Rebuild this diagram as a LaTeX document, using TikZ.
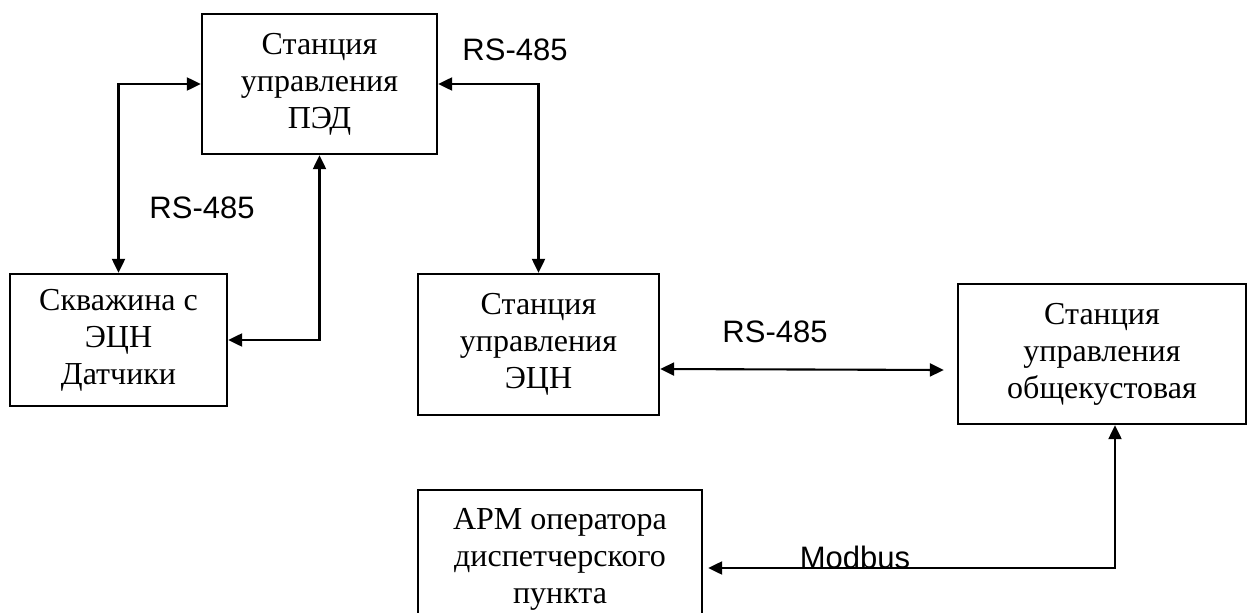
\documentclass[tikz,border=0pt]{standalone}
\usepackage{fontspec}
\setmainfont{Liberation Serif}
\newfontfamily\labelfont{Liberation Sans}
\usetikzlibrary{arrows.meta}
\begin{document}
\begin{tikzpicture}[x=1pt,y=-1pt,
  boxnode/.style={draw,line width=2.3pt,inner sep=0pt,align=center,
    font=\fontsize{32}{37}\selectfont},
  lbl/.style={inner sep=0pt,font=\labelfont\fontsize{31}{31}\selectfont},
  link/.style={line width=2.1pt,{Triangle[length=14pt,width=13pt]}-{Triangle[length=14pt,width=13pt]}}]
\useasboundingbox (0,0) rectangle (1248,613);
\fill[white] (0,0) rectangle (1248,613);

\node[boxnode,minimum width=235pt,minimum height=140pt] (ped) at (319.5,84) {Станция\\управления\\ПЭД};
\node[boxnode,minimum width=217pt,minimum height=132pt] (skv) at (118.5,340) {Скважина с\\ЭЦН\\Датчики};
\node[boxnode,minimum width=241pt,minimum height=141pt] (ecn) at (538.5,344.5) {Станция\\управления\\ЭЦН};
\node[boxnode,minimum width=288pt,minimum height=140pt] (ob) at (1102,354) {Станция\\управления\\общекустовая};
\node[boxnode,minimum width=284pt,minimum height=138pt] (apm) at (560,559) {АРМ оператора\\диспетчерского\\пункта};

\node[lbl] (l1) at (515,50) {RS-485};
\node[lbl] (l2) at (202,208) {RS-485};
\node[lbl] (l3) at (775,332) {RS-485};
\node[lbl,anchor=base] (l4) at (855,568) {Modbus};

\draw[link] (ped.west) -| (skv.north);
\draw[link] (ped.south) |- (skv.east);
\draw[link] (ped.east) -| (ecn.north);
\coordinate (ecnr) at ([yshift=-24.5pt]ecn.east);
\coordinate (obl) at ([xshift=-13pt,yshift=-16pt]ob.west);
\draw[link] (ecnr) -- (obl);
\coordinate (obb) at ([xshift=13pt]ob.south);
\coordinate (apmr) at ([xshift=5pt,yshift=-9pt]apm.east);
\draw[link] (obb) |- (apmr);
\end{tikzpicture}
\end{document}
